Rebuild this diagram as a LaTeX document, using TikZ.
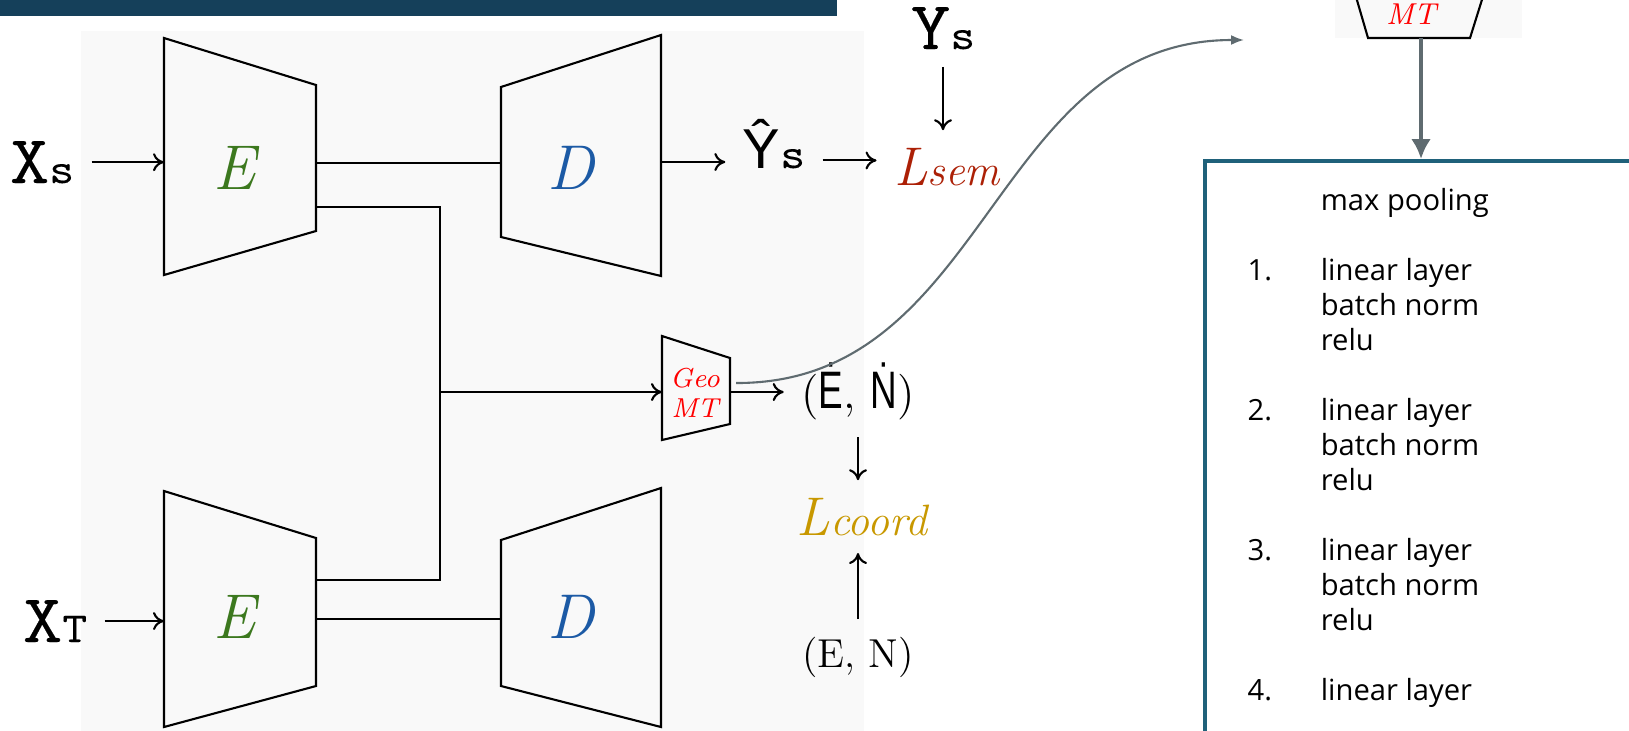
\documentclass[tikz,border=0pt]{standalone}
\usepackage{fontspec}
\usetikzlibrary{arrows.meta, positioning, calc}

\newfontfamily\cajafont{Open Sans}
\newfontfamily\sansletra{Liberation Sans}
\newfontfamily\sansangosta{Liberation Sans}[FakeStretch=0.7]
\newfontfamily\maquina{Latin Modern Mono}[FakeStretch=1.12, FakeBold=0.25]

\newcommand{\chico}[1]{{\fontsize{12.2}{14}\selectfont #1}}
\newcommand{\angosta}[1]{{\sansangosta\fontsize{15}{16}\selectfont #1}}

\definecolor{barra}{RGB}{21,64,90}
\definecolor{panel}{RGB}{249,249,249}
\definecolor{verdeE}{RGB}{60,120,30}
\definecolor{azulD}{RGB}{28,90,165}
\definecolor{rojoL}{RGB}{172,32,6}
\definecolor{oroL}{RGB}{200,152,0}
\definecolor{grisflecha}{RGB}{95,107,112}
\definecolor{bordecaja}{RGB}{31,97,122}

\begin{document}
\begin{tikzpicture}[>={To[length=1.1mm,width=1.8mm]},
        linea/.style={line width=0.6pt},
        flecha/.style={->, line width=0.6pt},
        trapecio/.style={draw, line width=0.6pt, line join=miter},
        etiqueta/.style={anchor=base, inner sep=0pt, outer sep=5pt, font=\fontsize{19.5}{21}\selectfont\maquina},
        bloque/.style={inner sep=0pt, font=\fontsize{18}{20}\selectfont\itshape},
        geotexto/.style={inner sep=0pt, align=center, text=red, font=\fontsize{7.8}{8.6}\selectfont\itshape},
        curva/.style={-{Latex[length=1.3mm,width=1mm]}, line width=0.6pt, draw=grisflecha},
        gruesa/.style={-{Latex[length=2mm,width=2mm]}, line width=1.4pt, draw=grisflecha},
        lista/.style={anchor=base west, inner sep=0pt, font=\cajafont\fontsize{8.3}{9.96}\selectfont}
    ]
        \useasboundingbox (0,0) rectangle (16.29,-7.30);
        \clip (0,0) rectangle (16.29,-7.30);

        % --- Fondo: barra superior y paneles grises ---
        \fill[barra] (0,0) rectangle (8.37,-0.16);
        \fill[panel] (0.81,-0.31) rectangle (8.64,-7.40);
        \fill[panel] (13.35,0.10) rectangle (15.22,-0.38);

        % --- Trapecios (codificadores y decodificadores) ---
        \draw[trapecio] (1.64,-0.38) -- (3.16,-0.85) -- (3.16,-2.31) -- (1.64,-2.75) -- cycle;
        \draw[trapecio] (5.01,-0.87) -- (6.61,-0.35) -- (6.61,-2.76) -- (5.01,-2.37) -- cycle;
        \draw[trapecio] (1.64,-4.91) -- (3.16,-5.38) -- (3.16,-6.86) -- (1.64,-7.27) -- cycle;
        \draw[trapecio] (5.01,-5.40) -- (6.61,-4.88) -- (6.61,-7.27) -- (5.01,-6.86) -- cycle;
        \draw[trapecio] (6.62,-3.36) -- (7.30,-3.58) -- (7.30,-4.24) -- (6.62,-4.40) -- cycle;
        \draw[trapecio] (13.54,0.10) -- (13.68,-0.38) -- (14.70,-0.38) -- (14.85,0.10);

        \node[bloque, text=verdeE] (encS) at (2.34,-1.68) {E};
        \node[bloque, text=azulD] (decS) at (5.71,-1.68) {D};
        \node[bloque, text=verdeE] (encT) at (2.34,-6.17) {E};
        \node[bloque, text=azulD] (decT) at (5.71,-6.17) {D};
        \node[geotexto] (geo) at (6.95,-3.93) {Geo\\MT};
        \node[geotexto, anchor=base, font=\fontsize{8.6}{10}\selectfont\itshape] (mt) at (14.11,-0.24) {MT};

        % puntos de anclaje sobre los lados de los trapecios
        \coordinate (encSent) at (1.64,-1.65);
        \coordinate (encSsal) at (3.16,-1.63);
        \coordinate (decSent) at (5.01,-1.63);
        \coordinate (decSsal) at (6.61,-1.62);
        \coordinate (encSrama) at (3.16,-2.07);
        \coordinate (rama) at (4.40,-3.92);
        \coordinate (encTrama) at (3.16,-5.80);
        \coordinate (encTent) at (1.64,-6.23);
        \coordinate (encTsal) at (3.16,-6.19);
        \coordinate (decTent) at (5.01,-6.19);
        \coordinate (geoEnt) at (6.62,-3.92);
        \coordinate (geoSal) at (7.30,-3.92);
        \coordinate (geoCurva) at (7.36,-3.83);
        \coordinate (mtSal) at (14.21,-0.38);
        \coordinate (mtLlegada) at (12.44,-0.40);
        \coordinate (cajaTope) at (14.21,-1.59);

        % --- Etiquetas de entrada, salida y pérdidas ---
        \node[etiqueta] (xs) at (0.42,-1.83) {X\chico{s}};
        \node[etiqueta] (xt) at (0.55,-6.42) {X\chico{T}};
        \node[etiqueta] (ys) at (9.43,-0.49) {Y\chico{s}};
        \node[etiqueta] (yhat) at (7.74,-1.68) {{\sansletra\fontsize{16}{18}\selectfont Ŷ}\chico{s}};
        \node[etiqueta, text=rojoL] (lsem) at (9.47,-1.85)
            {{\rmfamily\itshape\fontsize{15.5}{16}\selectfont L}{\rmfamily\itshape\fontsize{12.5}{14}\selectfont sem}};
        \node[etiqueta, font=\fontsize{13}{14}\selectfont\rmfamily] (edot) at (8.58,-4.08)
            {(\angosta{Ė}, \angosta{Ṅ})};
        \node[etiqueta, text=oroL] (lcoord) at (8.62,-5.35)
            {{\rmfamily\itshape\fontsize{15.5}{16}\selectfont L}{\rmfamily\itshape\fontsize{12.5}{14}\selectfont coord}};
        \node[etiqueta, font=\fontsize{11.5}{13}\selectfont\rmfamily] (en) at (8.58,-6.67) {(E, N)};

        % --- Caja con las capas ---
        \draw[bordecaja, line width=1pt] (12.05,-1.61) rectangle (16.60,-7.60);
        \node[lista] (capas) at (12.47,-2.10) {%
            \begin{tabular}[t]{@{}p{20.8pt}@{}l@{}}
                & max pooling\\
                & \\
             1. & linear layer\\
                & batch norm\\
                & relu\\
                & \\
             2. & linear layer\\
                & batch norm\\
                & relu\\
                & \\
             3. & linear layer\\
                & batch norm\\
                & relu\\
                & \\
             4. & linear layer
            \end{tabular}};

        % ================= CONEXIONES =================

        % Rama de origen
        \draw[flecha] (xs.east) -- (xs.east -| encSent);
        \draw[linea] (encSsal) -- (decSent);
        \draw[flecha] (decSsal) -- (decSsal -| yhat.west);
        \draw[flecha] (yhat.mid east) -- (yhat.mid east -| lsem.west);
        \draw[flecha] (ys.south) -- (ys.south |- lsem.north);

        % Rama de destino
        \draw[flecha] (xt.east) -- (xt.east -| encTent);
        \draw[linea] (encTsal) -- (decTent);

        % Ramal compartido hacia GeoMT
        \draw[linea] (encSrama) -| (rama) |- (encTrama);
        \draw[flecha] (rama) -- (geoEnt);
        \draw[flecha] (geoSal) -- (geoSal -| edot.west);
        \draw[flecha] (edot.south) -- (edot.south |- lcoord.north);
        \draw[flecha] (en.north) -- (en.north |- lcoord.south);

        % --- Detalle de GeoMT ---
        \draw[curva] (geoCurva) .. controls (9.89,-3.84) and (9.91,-0.40) .. (mtLlegada);
        \draw[gruesa] (mtSal) -- (cajaTope);

    \end{tikzpicture}
\end{document}
